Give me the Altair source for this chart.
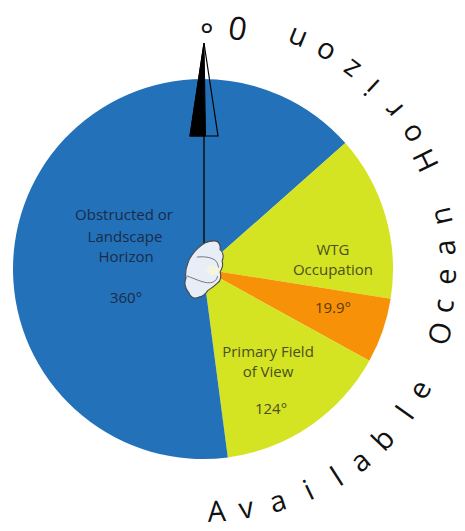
import altair as alt
import pandas as pd

# Pie wedges, degrees clockwise from north
wedge_start = [0, 48.5, 99.0, 118.9, 172.5]
wedge_end = [48.5, 99.0, 118.9, 172.5, 360]
wedge_color = ["#2371B8", "#D4E322", "#F79108", "#D4E322", "#2371B8"]

# Letters around the pie
letters = list("AvailableOceanHorizon")
letter_theta = [176.8, 169.8, 162.2, 154.5, 147.2, 140.7, 133.4, 125.4, 119.1,
                105.2, 98.7, 91.8, 85.0, 77.5,
                64.0, 57.1, 50.1, 42.9, 36.6, 29.4, 22.2]
letter_radius = [244, 244, 245, 246, 248, 249, 249, 249, 249,
                 247, 244, 244, 244, 245,
                 249, 249, 249, 249, 249, 249, 249]

# Labels inside the pie (reference pixels)
label_text = ["Obstructed or", "Landscape", "Horizon", "360°",
              "WTG", "Occupation", "19.9°",
              "Primary Field", "of View", "124°"]
label_x = [124, 125, 126, 126, 333, 333, 333, 268, 268, 271]
label_y = [215, 237, 257, 298, 250, 270, 308, 352, 372, 409]
label_color = ["#1A2C48"] * 4 + ["#4A5020"] * 2 + ["#5A3A10"] + ["#4A5020"] * 3

CX, CY = 203, 269
PW, PH = 449, 515
xs = alt.Scale(domain=[8, 8 + PW], range=[0, PW])
ys = alt.Scale(domain=[8, 8 + PH], range=[0, PH])
X = lambda f: alt.X(f, type="quantitative", scale=xs, axis=None)
Y = lambda f: alt.Y(f, type="quantitative", scale=ys, axis=None)
ts = alt.Scale(domain=[0, 360], range=[0, 6.283185307])

pie_df = pd.DataFrame({"a": wedge_start, "b": wedge_end, "c": wedge_color, "x": CX, "y": CY})
pie = alt.Chart(pie_df).mark_arc(radius=190).encode(
    x=X("x"), y=Y("y"),
    theta=alt.Theta("a:Q", scale=ts), theta2="b:Q",
    color=alt.Color("c:N", scale=None),
)

letters_df = pd.DataFrame({"t": letters, "th": letter_theta, "r": letter_radius})
letters_df["rot"] = (letters_df["th"] - 180) % 360
letters_df["x"] = CX
letters_df["y"] = CY
ring = alt.Chart(letters_df).mark_text(
    font="Open Sans", fontSize=29, baseline="middle", align="center", color="#111111"
).encode(
    x=X("x"), y=Y("y"),
    theta=alt.Theta("th:Q", scale=ts),
    radius=alt.Radius("r:Q", scale=None),
    text="t:N", angle=alt.Angle("rot:Q", scale=None),
)
top_df = pd.DataFrame({"t": ["0", "°"], "x": [238, 207], "y": [27, 20], "rot": [189, 181]})
top = alt.Chart(top_df).mark_text(
    font="Open Sans", fontSize=32, baseline="middle", align="center", color="#111111"
).encode(x=X("x"), y=Y("y"), text="t:N", angle=alt.Angle("rot:Q", scale=None))

lab_df = pd.DataFrame({"t": label_text, "x": label_x, "y": label_y, "c": label_color})
labels = alt.Chart(lab_df).mark_text(
    font="Open Sans", fontSize=15, baseline="middle", align="center"
).encode(x=X("x"), y=Y("y"), text="t:N", color=alt.Color("c:N", scale=None))

stem = alt.Chart(pd.DataFrame({"x": [204], "y": [130], "y2": [246]})).mark_rule(
    color="#111111", strokeWidth=1.5
).encode(x=X("x"), y=Y("y"), y2="y2:Q")

arrow_df = pd.DataFrame({"x": [204], "y": [90]})
ARROW_FILL = "M0,-0.94 L0.03,0.92 L-0.28,0.92 Z"
ARROW_LINE = "M0,-0.94 L0.28,0.92 L-0.28,0.92 Z"
arrow_a = alt.Chart(arrow_df).mark_point(
    shape=ARROW_FILL, size=10000, filled=True, fill="#000000", opacity=1, stroke="#000000", strokeWidth=1
).encode(x=X("x"), y=Y("y"))
arrow_b = alt.Chart(arrow_df).mark_point(
    shape=ARROW_LINE, size=10000, filled=False, stroke="#000000", strokeWidth=1.2, opacity=1
).encode(x=X("x"), y=Y("y"))

BLOB = ("M.33,-.97 C.48,-.97 .52,-.8 .50,-.68 C.60,-.62 .64,-.45 .57,-.30 "
        "C.62,-.15 .55,0 .50,.05 C.56,.22 .50,.38 .43,.42 C.3,.55 .2,.62 .1,.68 "
        "C0,.82 -.1,.9 -.2,.9 C-.35,.98 -.5,.9 -.53,.77 C-.68,.6 -.70,.4 -.63,.27 "
        "C-.68,.05 -.62,-.1 -.57,-.23 C-.5,-.45 -.35,-.62 -.23,-.73 C-.1,-.87 .1,-.98 .33,-.97 Z")
INNER = "M-.6,.2 C-.3,.3 .05,.5 .27,.4 C.35,.37 .4,.3 .42,.2 M-.27,-.43 C-.1,-.45 .15,-.45 .33,-.33 C.4,-.28 .43,-.2 .45,-.08"
PATCH = "M.05,0 C.1,-.22 .45,-.22 .5,0 C.45,.22 .1,.22 .05,0 Z"
blob_df = pd.DataFrame({"x": [205], "y": [270]})
blob = alt.Chart(blob_df).mark_point(
    shape=BLOB, size=3600, filled=True, fill="#E8EEF7", stroke="#4A4A4A", strokeWidth=1.1, opacity=1
).encode(x=X("x"), y=Y("y"))
patch = alt.Chart(blob_df).mark_point(
    shape=PATCH, size=3600, filled=True, fill="#F6F4DE", strokeWidth=0, opacity=1
).encode(x=X("x"), y=Y("y"))
inner = alt.Chart(blob_df).mark_point(
    shape=INNER, size=3600, filled=False, stroke="#6A6A6A", strokeWidth=0.9, opacity=1
).encode(x=X("x"), y=Y("y"))

chart = alt.layer(
    pie, labels, stem, arrow_a, arrow_b, blob, patch, inner, ring, top
).properties(
    width=PW, height=PH, padding=0, autosize=alt.AutoSizeParams(type="none"), background="white"
).configure_view(stroke=None)

chart.save("out.html", embed_options={"renderer": "svg", "actions": False})
